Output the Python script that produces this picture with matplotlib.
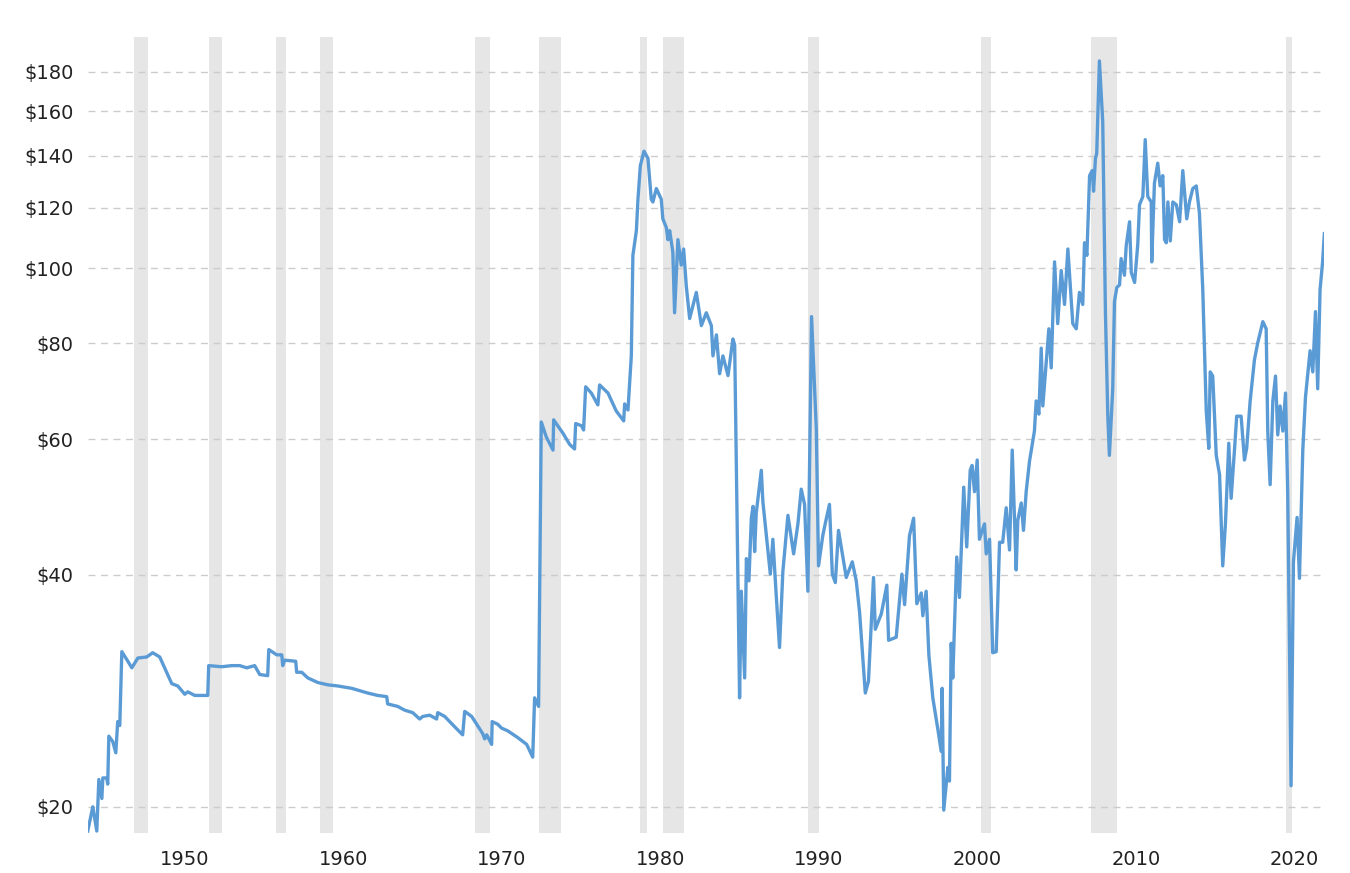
import matplotlib
matplotlib.use("Agg")
import matplotlib.pyplot as plt
from matplotlib.ticker import FixedLocator, NullLocator

# (year, inflation-adjusted crude oil price in $) readings
points = [
(1943.88,18.6),(1944.20,20.0),(1944.45,18.6),(1944.58,21.7),(1944.77,20.5),(1944.83,21.8),(1945.08,21.8),
(1945.14,21.4),(1945.21,24.7),(1945.46,24.3),(1945.65,23.5),(1945.77,25.8),(1945.90,25.5),(1946.03,31.8),
(1946.41,30.9),(1946.66,30.3),(1947.04,31.2),(1947.60,31.3),(1947.98,31.7),(1948.42,31.3),(1948.86,29.9),
(1949.18,28.9),(1949.56,28.7),(1950.00,28.0),(1950.19,28.2),(1950.63,27.9),(1951.14,27.9),(1951.45,27.9),
(1951.51,30.5),(1952.33,30.4),(1952.96,30.5),(1953.47,30.5),(1953.91,30.3),(1954.41,30.5),(1954.73,29.7),
(1955.23,29.6),(1955.30,32.0),(1955.80,31.5),(1956.12,31.5),(1956.18,30.5),(1956.31,31.0),(1957.00,30.9),
(1957.06,29.9),(1957.38,29.9),(1957.76,29.4),(1958.39,29.0),(1959.02,28.8),(1959.65,28.7),(1960.53,28.5),
(1961.54,28.1),(1962.17,27.9),(1962.74,27.8),(1962.80,27.2),(1963.43,27.0),(1963.87,26.7),(1964.38,26.5),
(1964.82,26.0),(1965.01,26.2),(1965.45,26.3),(1965.89,26.0),(1965.96,26.5),(1966.40,26.2),(1967.03,25.4),
(1967.53,24.8),(1967.66,26.6),(1968.10,26.2),(1968.79,24.9),(1968.92,24.5),(1969.05,24.8),(1969.36,24.1),
(1969.39,25.8),(1969.74,25.6),(1969.99,25.3),(1970.37,25.1),(1971.00,24.6),(1971.57,24.1),(1971.95,23.2),
(1972.07,27.7),(1972.32,27.0),
(1972.49,63.2),(1972.81,60.4),(1973.23,58.1),(1973.27,63.6),(1973.86,61.1),(1974.28,59.1),(1974.59,58.3),
(1974.66,62.9),(1975.02,62.5),(1975.16,61.7),(1975.29,70.2),(1975.65,68.9),(1976.06,66.5),(1976.17,70.6),
(1976.70,68.9),(1977.22,65.3),(1977.69,63.4),(1977.75,66.7),(1977.96,65.5),(1978.17,77.0),(1978.27,104.0),
(1978.49,112.0),(1978.59,123.0),(1978.74,136.0),(1978.97,142.0),(1979.22,139.0),(1979.43,123.0),(1979.53,122.0),
(1979.75,127.0),(1980.06,123.0),(1980.16,116.0),(1980.38,113.0),(1980.48,109.0),(1980.59,112.0),(1980.79,105.0),
(1980.90,87.6),(1981.11,109.0),(1981.32,101.0),(1981.47,106.0),(1981.64,94.8),(1981.85,86.1),(1982.27,93.1),
(1982.59,84.3),(1982.90,87.6),(1983.22,84.3),(1983.32,77.0),(1983.54,82.0),(1983.74,73.0),(1983.95,77.0),
(1984.27,72.6),(1984.58,81.0),(1984.69,79.6),
(1985.00,27.7),(1985.11,38.1),(1985.32,29.4),(1985.43,42.0),(1985.59,39.3),(1985.74,47.4),(1985.85,49.1),
(1985.95,42.9),(1986.05,48.1),(1986.37,54.7),(1986.47,49.8),(1986.85,41.9),(1986.94,40.1),(1987.10,44.5),
(1987.32,37.4),(1987.52,32.2),(1987.73,40.4),(1988.05,47.8),(1988.41,42.6),(1988.68,46.6),(1988.89,51.7),
(1989.10,49.4),(1989.31,38.1),(1989.54,86.6),(1989.84,61.9),(1989.98,41.1),(1990.25,45.0),(1990.42,46.8),
(1990.67,49.4),(1990.85,40.1),(1991.04,39.1),(1991.24,45.7),(1991.73,39.7),(1992.11,41.6),(1992.36,39.3),
(1992.57,35.8),(1992.93,28.1),(1993.13,29.1),(1993.45,39.7),(1993.56,34.0),(1993.94,35.6),(1994.29,38.8),
(1994.40,32.9),(1994.88,33.2),(1995.24,40.1),(1995.41,36.6),(1995.72,45.0),(1995.98,47.4),(1996.18,36.7),
(1996.46,37.9),(1996.56,35.4),(1996.77,38.1),(1996.94,31.5),(1997.19,27.7),(1997.51,25.2),(1997.72,23.6),
(1997.78,28.5),(1997.88,19.8),(1998.14,22.5),(1998.24,21.6),(1998.35,32.6),(1998.45,29.4),(1998.70,42.2),
(1998.87,37.4),(1999.14,52.0),(1999.33,43.5),(1999.55,54.7),(1999.67,55.5),(1999.82,51.3),(1999.99,56.4),
(2000.13,44.5),(2000.45,46.6),(2000.56,42.6),(2000.77,44.5),(2000.97,31.7),(2001.19,31.8),(2001.40,44.1),
(2001.60,44.1),(2001.82,48.9),(2002.03,43.1),(2002.20,58.1),(2002.45,40.6),(2002.55,47.1),(2002.77,49.6),
(2002.91,45.7),(2003.08,51.3),(2003.29,56.2),(2003.60,61.5),(2003.71,67.3),(2003.88,64.7),(2004.03,78.8),
(2004.13,66.3),(2004.51,83.5),(2004.66,74.3),(2004.87,102.0),(2005.07,84.8),(2005.29,99.4),(2005.50,89.8),
(2005.71,106.0),(2006.02,84.8),(2006.24,83.5),(2006.44,93.1),(2006.65,89.8),(2006.76,108.0),(2006.91,104.0),
(2007.08,132.0),(2007.25,134.0),(2007.33,126.0),(2007.45,139.0),(2007.53,141.0),(2007.70,186.0),(2007.91,155.0),
(2008.08,87.6),(2008.23,64.3),(2008.33,57.2),(2008.54,69.8),(2008.65,90.6),(2008.80,94.5),(2008.97,95.2),
(2009.07,103.0),(2009.28,98.0),(2009.39,107.0),(2009.60,115.0),(2009.71,98.8),(2009.92,95.9),(2010.12,107.5),
(2010.23,121.0),(2010.44,124.0),(2010.59,147.0),(2010.75,124.0),(2010.97,122.0),(2011.00,102.0),(2011.17,129.0),
(2011.38,137.0),(2011.53,128.0),(2011.70,132.0),(2011.81,109.0),(2011.92,108.0),(2012.02,122.0),(2012.17,108.6),
(2012.33,122.0),(2012.55,121.0),(2012.76,115.0),(2012.96,134.0),(2013.21,116.0),(2013.38,122.0),(2013.59,127.0),
(2013.81,128.0),(2014.01,118.0),(2014.22,93.9),(2014.44,65.3),(2014.60,58.4),(2014.69,73.4),(2014.85,72.5),
(2015.07,57.2),(2015.28,54.0),(2015.48,41.1),(2015.65,46.6),(2015.86,59.3),(2016.01,50.3),(2016.22,58.1),
(2016.36,64.3),(2016.64,64.3),(2016.85,56.4),(2016.99,58.4),(2017.21,67.3),(2017.48,76.1),(2017.69,80.1),
(2018.01,85.3),(2018.22,83.5),(2018.32,61.5),(2018.47,52.4),(2018.64,67.3),(2018.81,72.5),(2018.95,60.8),
(2019.10,66.3),(2019.27,61.5),(2019.44,68.9),(2019.58,51.0),(2019.79,21.3),(2019.94,41.6),(2020.17,47.5),
(2020.32,39.6),(2020.53,58.1),(2020.70,68.1),(2020.99,78.2),(2021.16,73.4),(2021.33,87.9),(2021.47,69.8),
(2021.62,93.9),(2021.78,102.0),(2021.89,111.0),
]
years = [p[0] for p in points]
prices = [p[1] for p in points]

recessions = [(1946.78,1947.67),(1951.51,1952.33),(1955.74,1956.37),(1958.51,1959.33),(1968.29,1969.23),
              (1972.32,1973.71),(1978.69,1979.13),(1980.14,1981.47),(1989.29,1989.98),(2000.26,2000.89),
              (2007.20,2008.78),(2019.50,2019.82)]

y_ticks = [20,40,60,80,100,120,140,160,180]
y_labels = ["$20","$40","$60","$80","$100","$120","$140","$160","$180"]
x_ticks = [1950,1960,1970,1980,1990,2000,2010,2020]

fig = plt.figure(figsize=(13.5,8.73), dpi=100)
ax = fig.add_axes([0.065,0.046,0.916,0.912])
for a,b in recessions:
    ax.axvspan(a,b,color="#e6e6e6",lw=0,zorder=0)
ax.plot(years,prices,color="#5b9bd5",lw=2.4,zorder=3,solid_joinstyle="round")
ax.set_yscale("log")
ax.set_ylim(18.5,200)
ax.set_xlim(1943.88,2021.89)
ax.yaxis.set_major_locator(FixedLocator(y_ticks))
ax.yaxis.set_minor_locator(NullLocator())
ax.set_yticklabels(y_labels)
ax.set_xticks(x_ticks)
ax.xaxis.set_minor_locator(NullLocator())
ax.grid(axis="y",color="#cccccc",ls=(0,(5,4)),lw=1,zorder=1)
for s in ax.spines.values():
    s.set_visible(False)
ax.tick_params(length=0,labelsize=14,colors="#222222")
ax.tick_params(axis="y",pad=10)
ax.tick_params(axis="x",pad=12)
fig.savefig("out.png",dpi=100)
